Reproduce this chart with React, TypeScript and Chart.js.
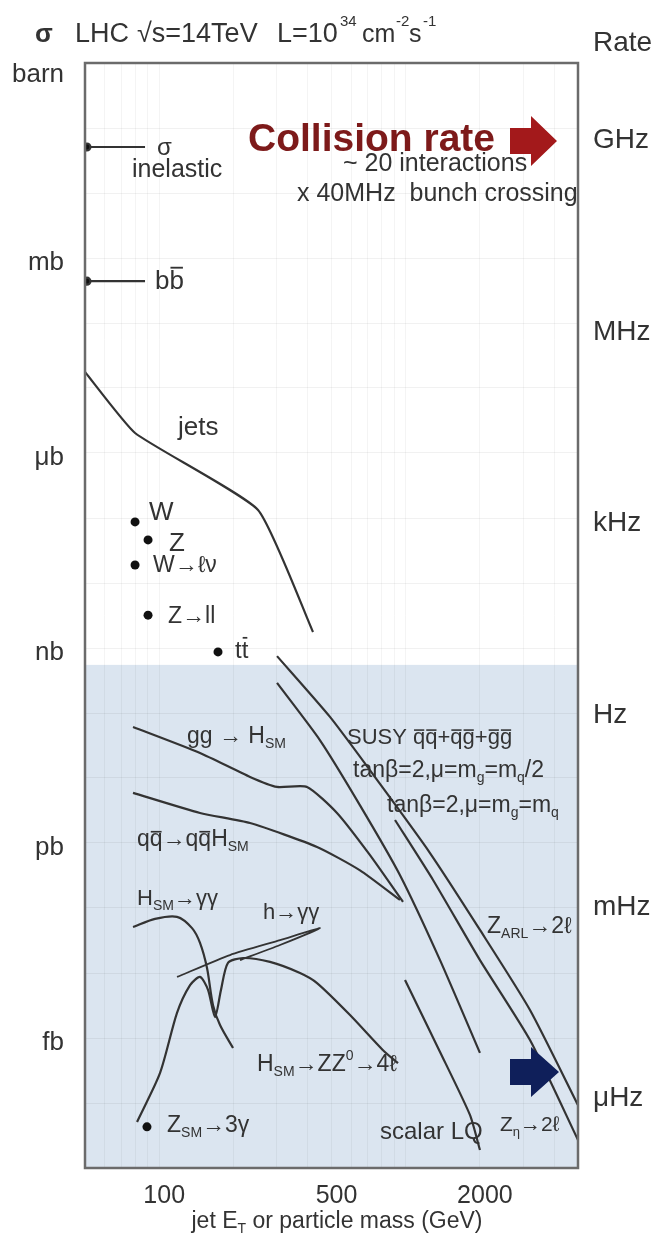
import React, { useEffect, useRef } from 'react';
import { Chart, registerables } from 'chart.js';

Chart.register(...registerables);

// ---------------- axes ----------------
const X_MIN = 50;
const X_MAX = 5000;
const Y_MIN = 1e-17; // barn
const Y_MAX = 1;

const xGridValues = [60, 70, 80, 90, 100, 200, 300, 400, 500, 600, 700, 800, 900, 1000, 2000, 3000, 4000];
const yGridValues = [1e-16, 1e-15, 1e-14, 1e-13, 1e-12, 1e-11, 1e-10, 1e-9, 1e-8, 1e-7, 1e-6, 1e-5, 1e-4, 1e-3, 1e-2, 1e-1];

const xTickValues = [100, 500, 2000];
const xTickLabels = ['100', '500', '2000'];
const yTickValues = [1, 1e-3, 1e-6, 1e-9, 1e-12, 1e-15];
const yTickLabels = ['barn', 'mb', 'μb', 'nb', 'pb', 'fb'];
const rateTickLabels = ['GHz', 'MHz', 'kHz', 'Hz', 'mHz', 'μHz'];

// shaded region (below this cross-section)
const shadeTopSigma = 5.5e-10;

// ---------------- data (E in GeV, σ in barn) ----------------
const inelasticE = [50.9, 87.6];
const inelasticSigma = [5.1e-2, 5.1e-2];
const bbE = [50.9, 87.6];
const bbSigma = [4.4e-4, 4.4e-4];

const jetsE = [50, 79.8, 251.7, 420.7];
const jetsSigma = [1.76e-5, 2.03e-6, 1.33e-7, 1.76e-9];

const pointE = [79.8, 90.1, 79.8, 90.1, 173.2, 89.2];
const pointSigma = [8.7e-8, 4.6e-8, 1.89e-8, 3.2e-9, 8.7e-10, 4.3e-17];

const ggHE = [78.3, 146.4, 233.6, 300.6, 397.8, 526.3, 716.5, 975.2];
const ggHSigma = [6.1e-11, 2.43e-11, 1.04e-11, 7.3e-12, 7.3e-12, 2.9e-12, 6.5e-13, 1.24e-13];

const qqHE = [78.3, 146.4, 233.6, 436.8, 652.6, 948.2];
const qqHSigma = [5.9e-12, 2.9e-12, 2.03e-12, 8.7e-13, 3.8e-13, 1.33e-13];

const susyAE = [300.6, 493, 786.6, 1255, 2001, 3193, 5000];
const susyASigma = [7.5e-10, 8.7e-11, 8.1e-12, 7.0e-13, 4.6e-14, 2.7e-15, 9.3e-17];

const susyBE = [300.6, 449.2, 652.6, 948.2, 1378, 2001];
const susyBSigma = [2.9e-10, 3.8e-11, 3.8e-12, 3.2e-13, 1.58e-14, 5.9e-16];

const zPrimeE = [905, 1291, 2001, 3193, 5000];
const zPrimeSigma = [2.26e-12, 2.7e-13, 1.58e-14, 9.3e-16, 2.7e-17];

const lqE = [993.6, 1378, 1824, 2001];
const lqSigma = [7.8e-15, 6.1e-16, 6.5e-17, 1.89e-17];

const hggSME = [78.3, 96.2, 118.1, 135.9, 146.4, 156.3, 165.3, 176.5, 199.3];
const hggSMSigma = [5.1e-14, 6.8e-14, 7.3e-14, 4.9e-14, 2.9e-14, 1.19e-14, 3.2e-15, 1.58e-15, 7.0e-16];

const hggE = [118.1, 193.7, 309.2, 449.2, 309.2, 212.7];
const hggSigma = [8.7e-15, 1.89e-14, 3.2e-14, 4.9e-14, 2.7e-14, 1.58e-14];

const hzzE = [81.3, 100.8, 118.1, 133.4, 146.4, 157.8, 168.4, 178.1, 190.1, 218.8, 281.5, 372.6, 436.8, 594.4, 809, 930.6];
const hzzSigma = [5.1e-17, 2.9e-16, 2.43e-15, 6.5e-15, 8.7e-15, 5.5e-15, 2.1e-15, 5.5e-15, 1.43e-14, 1.7e-14, 1.48e-14, 1.0e-14, 7.0e-15, 2.26e-15, 6.5e-16, 4.1e-16];

// ---------------- styling ----------------
const FONT = '"Liberation Sans", Arial, "DejaVu Sans", sans-serif';
const TEXT = '#333';
const LINE = '#333';
const SHADE = '#dbe5f0';

const pts = (xs: number[], ys: number[]) => xs.map((x, i) => ({ x, y: ys[i] }));

type Seg = { t: string; mode: 'n' | 'sub' | 'sup' | 'bar' };
function parseRich(s: string): Seg[] {
  const out: Seg[] = [];
  let i = 0;
  let buf = '';
  while (i < s.length) {
    const c = s[i];
    if ((c === '_' || c === '^' || c === '~') && s[i + 1] === '{') {
      if (buf) { out.push({ t: buf, mode: 'n' }); buf = ''; }
      const end = s.indexOf('}', i + 2);
      out.push({ t: s.slice(i + 2, end), mode: c === '_' ? 'sub' : c === '^' ? 'sup' : 'bar' });
      i = end + 1;
    } else { buf += c; i++; }
  }
  if (buf) out.push({ t: buf, mode: 'n' });
  return out;
}

function drawRich(ctx: CanvasRenderingContext2D, s: string, x: number, y: number, size: number,
  opts: { align?: 'left' | 'center' | 'right'; color?: string; bold?: boolean } = {}) {
  const segs = parseRich(s);
  const color = opts.color || TEXT;
  const fontFor = (m: string) => `${opts.bold ? 'bold ' : ''}${m === 'sub' || m === 'sup' ? Math.round(size * 0.62) : size}px ${FONT}`;
  const widths = segs.map((sg) => { ctx.font = fontFor(sg.mode); return ctx.measureText(sg.t).width; });
  const total = widths.reduce((a, b) => a + b, 0);
  let cx = opts.align === 'center' ? x - total / 2 : opts.align === 'right' ? x - total : x;
  ctx.save();
  ctx.textBaseline = 'middle';
  ctx.textAlign = 'left';
  ctx.fillStyle = color;
  ctx.strokeStyle = color;
  segs.forEach((sg, i) => {
    ctx.font = fontFor(sg.mode);
    const dy = sg.mode === 'sub' ? size * 0.33 : sg.mode === 'sup' ? -size * 0.4 : 0;
    ctx.fillText(sg.t, cx, y + dy);
    if (sg.mode === 'bar') {
      const tall = /[bdfhklt]/.test(sg.t);
      const by = y - size * (tall ? 0.55 : 0.36);
      ctx.lineWidth = Math.max(1, size / 14);
      ctx.beginPath();
      ctx.moveTo(cx + 1, by);
      ctx.lineTo(cx + widths[i] - 1, by);
      ctx.stroke();
    }
    cx += widths[i];
  });
  ctx.restore();
}

function blockArrow(ctx: CanvasRenderingContext2D, x0: number, yc: number, shaftEnd: number, tip: number,
  shaftHalf: number, headHalf: number, color: string) {
  ctx.save();
  ctx.fillStyle = color;
  ctx.beginPath();
  ctx.moveTo(x0, yc - shaftHalf);
  ctx.lineTo(shaftEnd, yc - shaftHalf);
  ctx.lineTo(shaftEnd, yc - headHalf);
  ctx.lineTo(tip, yc);
  ctx.lineTo(shaftEnd, yc + headHalf);
  ctx.lineTo(shaftEnd, yc + shaftHalf);
  ctx.lineTo(x0, yc + shaftHalf);
  ctx.closePath();
  ctx.fill();
  ctx.restore();
}

const curveLabels: { t: string; x: number; y: number; s: number }[] = [
  { t: 'σ', x: 157, y: 148, s: 24 },
  { t: 'inelastic', x: 132, y: 170, s: 25 },
  { t: 'b~{b}', x: 155, y: 282, s: 26 },
  { t: 'jets', x: 178, y: 428, s: 26 },
  { t: 'W', x: 149, y: 513, s: 26 },
  { t: 'Z', x: 169, y: 544, s: 26 },
  { t: 'W→ℓν', x: 153, y: 566, s: 23 },
  { t: 'Z→ll', x: 168, y: 617, s: 23 },
  { t: 't~{t}', x: 235, y: 651, s: 24 },
  { t: 'gg → H_{SM}', x: 187, y: 737, s: 23 },
  { t: 'q~{q}→q~{q}H_{SM}', x: 137, y: 840, s: 23 },
  { t: 'H_{SM}→γγ', x: 137, y: 899, s: 22 },
  { t: 'h→γγ', x: 263, y: 913, s: 22 },
  { t: 'H_{SM}→ZZ^{0}→4ℓ', x: 257, y: 1065, s: 23 },
  { t: 'Z_{SM}→3γ', x: 167, y: 1126, s: 23 },
  { t: 'SUSY ~{q}~{q}+~{q}~{g}+~{g}~{g}', x: 347, y: 738, s: 22 },
  { t: 'tanβ=2,μ=m_{g}=m_{q}/2', x: 353, y: 771, s: 23 },
  { t: 'tanβ=2,μ=m_{g}=m_{q}', x: 387, y: 806, s: 23 },
  { t: 'Z_{ARL}→2ℓ', x: 487, y: 927, s: 23 },
  { t: 'scalar LQ', x: 380, y: 1132, s: 24 },
  { t: 'Z_{η}→2ℓ', x: 500, y: 1125, s: 21 },
];

const decorPlugin = {
  id: 'decor',
  beforeDraw(chart: any) {
    const { ctx, chartArea: a, scales } = chart;
    const yTop = scales.y.getPixelForValue(shadeTopSigma);
    ctx.save();
    ctx.fillStyle = SHADE;
    ctx.fillRect(a.left, yTop, a.right - a.left, a.bottom - yTop);
    ctx.restore();
  },
  afterDraw(chart: any) {
    const { ctx, chartArea: a, scales } = chart;
    const xs = scales.x;
    const ys = scales.y;

    // frame
    ctx.save();
    ctx.strokeStyle = '#6b6b6b';
    ctx.lineWidth = 2.5;
    ctx.strokeRect(a.left, a.top, a.right - a.left, a.bottom - a.top);
    ctx.restore();

    // left axis labels
    yTickValues.forEach((v, i) => {
      const py = Math.max(ys.getPixelForValue(v) + 5, a.top + 12);
      drawRich(ctx, yTickLabels[i], 64, py, 26, { align: 'right' });
    });
    // right axis (rate) labels
    const rateY = [140, 332, 523, 715, 907, 1098];
    rateTickLabels.forEach((l, i) => drawRich(ctx, l, 593, rateY[i], 28));
    drawRich(ctx, 'Rate', 593, 43, 28);

    // x tick labels
    xTickValues.forEach((v, i) => {
      drawRich(ctx, xTickLabels[i], xs.getPixelForValue(v) + 5, 1196, 25, { align: 'center' });
    });
    drawRich(ctx, 'jet E_{T} or particle mass (GeV)', 337, 1222, 23, { align: 'center' });

    // title
    drawRich(ctx, 'σ', 35, 35, 26, { bold: true });
    drawRich(ctx, 'LHC', 75, 35, 27);
    drawRich(ctx, '√s=14TeV', 137, 35, 27);
    drawRich(ctx, 'L=10', 277, 35, 27);
    drawRich(ctx, '34', 340, 22, 15);
    drawRich(ctx, 'cm', 362, 35, 25);
    drawRich(ctx, '-2', 396, 22, 15);
    drawRich(ctx, 's', 409, 35, 25);
    drawRich(ctx, '-1', 423, 22, 15);

    // collision rate annotation
    drawRich(ctx, 'Collision rate', 248, 140, 39, { bold: true, color: '#7d1a1a' });
    blockArrow(ctx, 510, 141, 531, 557, 13, 25, '#a3191b');
    drawRich(ctx, '~ 20 interactions', 343, 164, 25);
    drawRich(ctx, 'x 40MHz  bunch crossing', 297, 194, 25);

    // curve labels
    curveLabels.forEach((l) => drawRich(ctx, l.t, l.x, l.y, l.s));

    // blue arrow
    blockArrow(ctx, 510, 1072, 531, 559, 13, 25, '#0f1f5a');
  },
};

export default function App() {
  const ref = useRef<HTMLCanvasElement>(null);
  useEffect(() => {
    const canvas = ref.current;
    if (!canvas) return;
    const line = (xsv: number[], ysv: number[], tension = 0, extra: any = {}) => ({
      data: pts(xsv, ysv),
      showLine: true,
      borderColor: LINE,
      backgroundColor: '#111',
      borderWidth: 2.2,
      pointRadius: 0,
      tension,
      ...extra,
    });
    const chart = new Chart(canvas, {
      type: 'scatter',
      data: {
        datasets: [
          line(inelasticE, inelasticSigma, 0, { pointRadius: [3.5, 0] }),
          line(bbE, bbSigma, 0, { pointRadius: [3.5, 0] }),
          line(jetsE, jetsSigma, 0.15),
          line(ggHE, ggHSigma, 0.2),
          line(qqHE, qqHSigma, 0.2),
          line(susyAE, susyASigma, 0.2),
          line(susyBE, susyBSigma, 0.2),
          line(zPrimeE, zPrimeSigma, 0.2),
          line(lqE, lqSigma, 0.2),
          line(hggSME, hggSMSigma, 0.3),
          line(hggE, hggSigma, 0.2, { borderWidth: 1.8 }),
          line(hzzE, hzzSigma, 0.25),
          {
            data: pts(pointE, pointSigma),
            showLine: false,
            pointRadius: 4.5,
            pointBackgroundColor: '#111',
            pointBorderColor: '#111',
            pointBorderWidth: 0,
          },
        ],
      },
      options: {
        animation: false,
        responsive: false,
        maintainAspectRatio: false,
        layout: { padding: { left: 85, right: 81, top: 63, bottom: 69 } },
        plugins: { legend: { display: false }, tooltip: { enabled: false } },
        scales: {
          x: {
            type: 'logarithmic',
            min: X_MIN,
            max: X_MAX,
            ticks: { display: false },
            grid: { color: 'rgba(0,0,0,0.045)', lineWidth: 1, drawTicks: false },
            border: { display: false },
            afterBuildTicks: (s: any) => { s.ticks = xGridValues.map((v) => ({ value: v })); },
          },
          y: {
            type: 'logarithmic',
            min: Y_MIN,
            max: Y_MAX,
            ticks: { display: false },
            grid: { color: 'rgba(0,0,0,0.055)', lineWidth: 1, drawTicks: false },
            border: { display: false },
            afterBuildTicks: (s: any) => { s.ticks = yGridValues.map((v) => ({ value: v })); },
          },
        },
      },
      plugins: [decorPlugin],
    } as any);
    return () => chart.destroy();
  }, []);
  return (
    <div style={{ position: 'absolute', left: 0, top: 0, width: 659, height: 1237, background: '#fff' }}>
      <canvas ref={ref} width={659} height={1237} style={{ display: 'block', width: 659, height: 1237 }} />
    </div>
  );
}
